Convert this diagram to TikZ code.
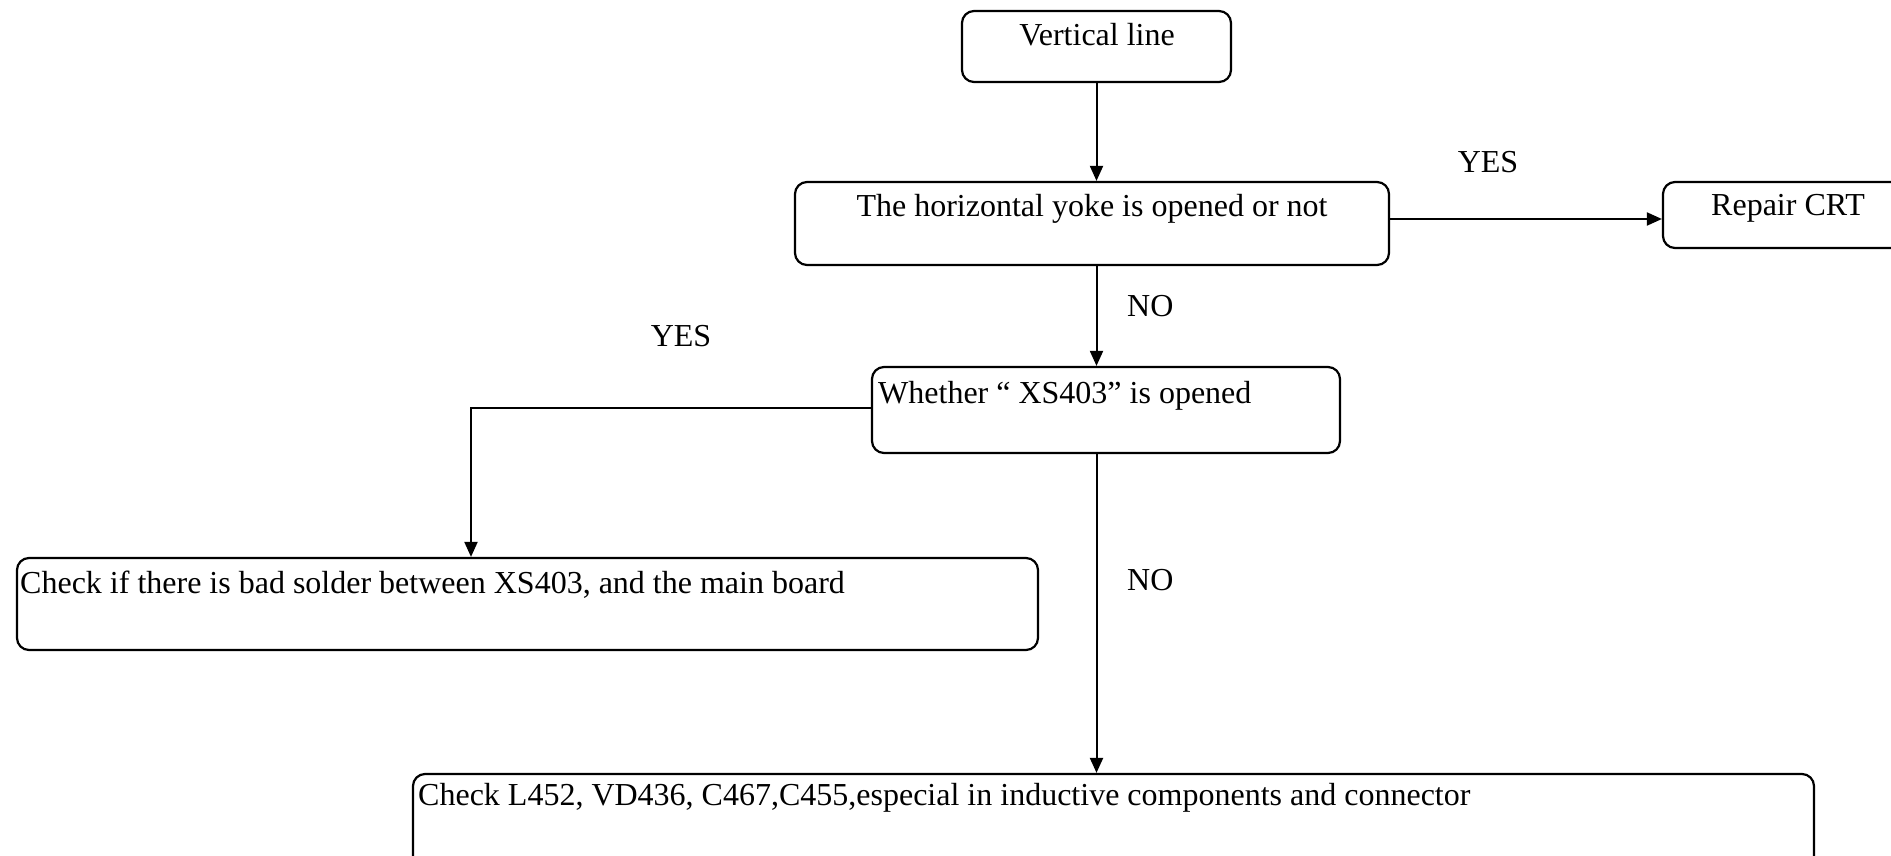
\documentclass[tikz,border=0pt]{standalone}
\usepackage{fontspec}
\setmainfont{Liberation Serif}
\usetikzlibrary{arrows.meta}
\tikzset{
  box/.style={draw, line width=2.2pt, rounded corners=12pt, inner sep=0pt, rectangle},
  arr/.style={line width=2pt, -{Triangle[length=15pt,width=13pt]}},
  txt/.style={inner sep=0pt, font=\fontsize{32}{38}\selectfont},
}
\begin{document}
\begin{tikzpicture}[x=1pt,y=-1pt]
\useasboundingbox (0,0) rectangle (1891,855);
\clip (0,0) rectangle (1891,855);
% boxes
\node[box, minimum width=269pt, minimum height=71pt] (b1) at (1096.5,46.5) {};
\node[box, minimum width=594pt, minimum height=83pt] (b2) at (1092,223.5) {};
\node[box, minimum width=248pt, minimum height=66pt] (b6) at (1787,215) {};
\node[box, minimum width=468pt, minimum height=86pt] (b3) at (1106,410) {};
\node[box, minimum width=1021pt, minimum height=92pt] (b4) at (527.5,604) {};
\node[box, minimum width=1401pt, minimum height=110pt] (b5) at (1113.5,829) {};
% texts
\node[txt, anchor=base] (t1) at (1097,45) {Vertical line};
\node[txt, anchor=base] (t2) at (1092,216) {The horizontal yoke is opened or not};
\node[txt, anchor=base] (t6) at (1788,215) {Repair CRT};
\node[txt, anchor=base west] (t3) at (878,403) {Whether “ XS403” is opened};
\node[txt, anchor=base west] (t4) at (20,593) {Check if there is bad solder between XS403, and the main board};
\node[txt, anchor=base west] (t5) at (418,805) {Check L452, VD436, C467,C455,especial in inductive components and connector};
% labels
\node[txt, anchor=base] (y1) at (1488,172) {YES};
\node[txt, anchor=base] (y2) at (681,346) {YES};
\node[txt, anchor=base west] (n1) at (1127,316) {NO};
\node[txt, anchor=base west] (n2) at (1127,590) {NO};
% connectors
\draw[arr] (b1.south) -- (b1.south |- b2.north);
\draw[arr] (b1.south |- b2.south) -- (b1.south |- b3.north);
\draw[arr] ([yshift=4.5pt]b2.east) -- ([yshift=4.5pt]b2.east -| b6.west);
\draw[arr] ([yshift=2pt]b3.west) -| ([xshift=-56.5pt]b4.north);
\draw[arr] (b1.south |- b3.south) -- (b1.south |- b5.north);
\end{tikzpicture}
\end{document}
